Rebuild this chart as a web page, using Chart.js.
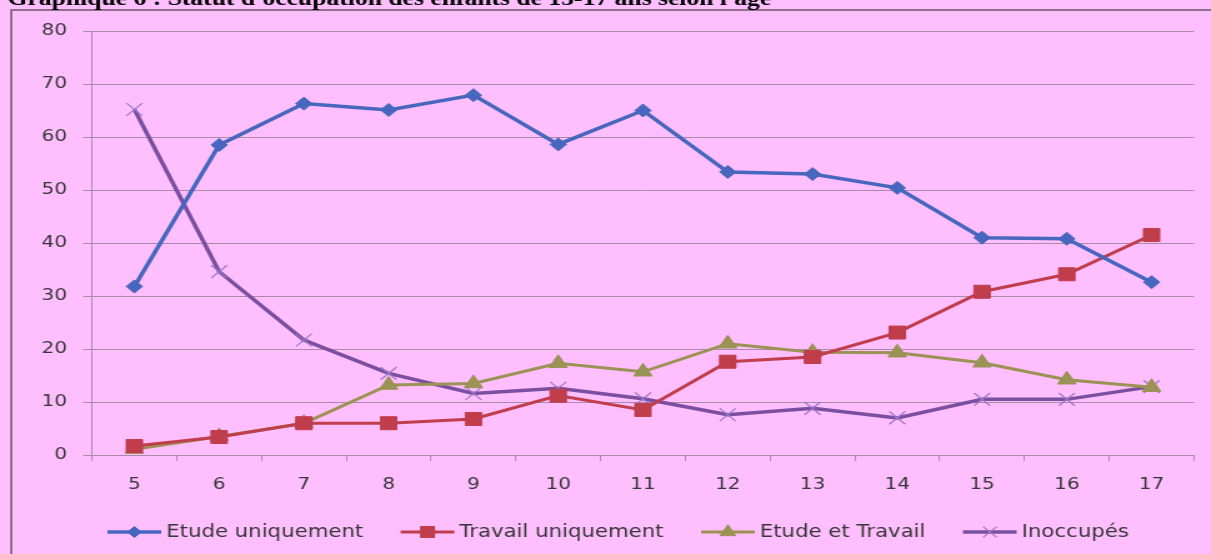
<!DOCTYPE html>
<html>
<head>
<meta charset="utf-8">
<script src="https://cdn.jsdelivr.net/npm/chart.js"></script>
<style>
  html, body { margin: 0; padding: 0; background: #ffbfff; overflow: hidden; }
  /* the reference picture is stretched sideways, so the whole chart is too */
  #wrap { width: 969px; height: 554px; transform: scaleX(1.2497); transform-origin: 0 0; }
</style>
</head>
<body>
<div id="wrap"><canvas id="occupationChart" width="969" height="554"></canvas></div>
<script>
const titleText = "Graphique 6 : Statut d'occupation des enfants de 15-17 ans selon l'âge";
const ages = ['5', '6', '7', '8', '9', '10', '11', '12', '13', '14', '15', '16', '17'];
const etudeUniquement = [31.8, 58.5, 66.3, 65.1, 67.9, 58.6, 65.0, 53.4, 53.0, 50.4, 41.0, 40.8, 32.6];
const travailUniquement = [1.7, 3.4, 6.0, 6.0, 6.8, 11.2, 8.5, 17.6, 18.5, 23.1, 30.8, 34.1, 41.5];
const etudeEtTravail = [1.1, 3.5, 6.0, 13.2, 13.5, 17.3, 15.7, 21.0, 19.4, 19.3, 17.4, 14.2, 12.8];
const inoccupes = [65.2, 34.6, 21.7, 15.4, 11.6, 12.6, 10.6, 7.6, 8.8, 7.0, 10.5, 10.5, 12.9];
const seriesNames = ['Etude uniquement', 'Travail uniquement', 'Etude et Travail', 'Inoccupés'];

const gridColor = '#a98aa8';
const textColor = '#363636';

// background, frame, title and legend (line + marker like the original)
const decorPlugin = {
    id: 'decor',
    beforeDraw(chart) {
        const ctx = chart.ctx;
        ctx.save();
        ctx.fillStyle = '#ffbfff';
        ctx.fillRect(0, 0, chart.width, chart.height);
        ctx.strokeStyle = '#8e6f8e';
        ctx.lineWidth = 2;
        ctx.strokeRect(9, 10, 2000, 2000);
        ctx.fillStyle = '#000';
        ctx.font = 'bold 20.5px "Liberation Serif"';
        ctx.textBaseline = 'alphabetic';
        ctx.fillText(titleText, 6, 4.5);
        ctx.restore();
    },
    afterDraw(chart) {
        const ctx = chart.ctx;
        ctx.save();
        ctx.font = '17px "DejaVu Sans"';
        ctx.textBaseline = 'middle';
        const y = 532;
        let x = 86;
        chart.data.datasets.forEach(ds => {
            ctx.strokeStyle = ds.borderColor;
            ctx.lineWidth = ds.borderWidth;
            ctx.beginPath();
            ctx.moveTo(x, y);
            ctx.lineTo(x + 43, y);
            ctx.stroke();
            ctx.fillStyle = ds.pointBackgroundColor;
            ctx.strokeStyle = ds.pointBorderColor;
            ctx.lineWidth = ds.pointBorderWidth;
            Chart.helpers.drawPoint(ctx, {
                pointStyle: ds.pointStyle,
                radius: ds.pointRadius * 0.85,
                borderWidth: ds.pointBorderWidth,
                rotation: 0
            }, x + 21.5, y);
            ctx.fillStyle = textColor;
            ctx.fillText(ds.label, x + 47, y + 1);
            x += 47 + ctx.measureText(ds.label).width + 30;
        });
        ctx.restore();
    }
};

const ctx = document.getElementById('occupationChart').getContext('2d');
new Chart(ctx, {
    type: 'line',
    data: {
        labels: ages,
        datasets: [{
            label: seriesNames[0],
            data: etudeUniquement,
            borderColor: '#4766bd',
            borderWidth: 3.5,
            pointStyle: 'rectRot',
            pointRadius: 6.5,
            pointBackgroundColor: '#4766bd',
            pointBorderColor: '#4766bd',
            pointBorderWidth: 1
        }, {
            label: seriesNames[1],
            data: travailUniquement,
            borderColor: '#c03d4c',
            borderWidth: 3,
            pointStyle: 'rect',
            pointRadius: 9.2,
            pointBackgroundColor: '#c03d4c',
            pointBorderColor: '#c03d4c',
            pointBorderWidth: 1
        }, {
            label: seriesNames[2],
            data: etudeEtTravail,
            borderColor: '#9b9255',
            borderWidth: 3,
            pointStyle: 'triangle',
            pointRadius: 8.5,
            pointBackgroundColor: '#9b9255',
            pointBorderColor: '#9b9255',
            pointBorderWidth: 1
        }, {
            label: seriesNames[3],
            data: inoccupes,
            borderColor: '#7b4f9f',
            borderWidth: 3.5,
            pointStyle: 'crossRot',
            pointRadius: 9,
            pointBackgroundColor: '#9b77c9',
            pointBorderColor: '#9b77c9',
            pointBorderWidth: 1.2
        }]
    },
    options: {
        responsive: false,
        animation: false,
        layout: { padding: { top: 31, right: 13.6, left: 0, bottom: 0 } },
        plugins: {
            legend: { display: false },
            tooltip: { enabled: false }
        },
        elements: { line: { tension: 0 } },
        scales: {
            x: {
                offset: true,
                grid: { drawOnChartArea: false, offset: true, tickLength: 6, color: gridColor },
                border: { color: gridColor, width: 1 },
                ticks: { color: textColor, font: { family: 'DejaVu Sans', size: 16 }, padding: 14 },
                afterFit(scale) { scale.height = 99; }
            },
            y: {
                min: 0,
                max: 80,
                ticks: { stepSize: 10, color: textColor, font: { family: 'DejaVu Sans', size: 16 }, padding: 13 },
                grid: { color: gridColor, tickLength: 7 },
                border: { color: gridColor, width: 1 },
                afterFit(scale) { scale.width = 73.6; }
            }
        }
    },
    plugins: [decorPlugin]
});
</script>
</body>
</html>
